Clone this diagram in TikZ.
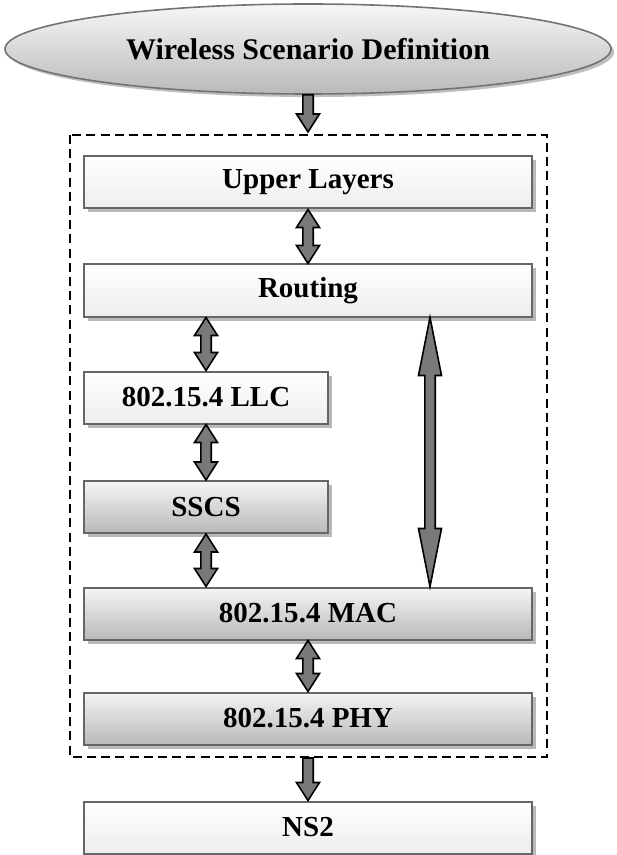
\documentclass[tikz,border=0pt]{standalone}
\usepackage{fontspec}
\setmainfont{Liberation Serif}
\usetikzlibrary{calc,shapes.geometric,shadows}

% vertical block arrows, drawn from the upper end to the lower end
\newcommand{\twoway}[3]{%
  \filldraw[link] let \p1=(#1), \p2=(#2) in
    (\x1,\y1) -- (\x1+5.75pt,\y1-#3) -- (\x1+2.6pt,\y1-#3)
    -- (\x1+2.6pt,\y2+#3) -- (\x1+5.75pt,\y2+#3) -- (\x1,\y2)
    -- (\x1-5.75pt,\y2+#3) -- (\x1-2.6pt,\y2+#3)
    -- (\x1-2.6pt,\y1-#3) -- (\x1-5.75pt,\y1-#3) -- cycle;}
\newcommand{\oneway}[2]{%
  \filldraw[link] let \p1=(#1), \p2=(#2) in
    (\x1-2.6pt,\y1) -- (\x1+2.6pt,\y1) -- (\x1+2.6pt,\y2+9pt)
    -- (\x1+5.75pt,\y2+9pt) -- (\x1,\y2) -- (\x1-5.75pt,\y2+9pt)
    -- (\x1-2.6pt,\y2+9pt) -- cycle;}

\begin{document}
\begin{tikzpicture}[
  x=0.5pt, y=-0.5pt,
  every node/.style={font=\fontsize{14.5}{17}\selectfont\bfseries},
  layer/.style={draw=black!60, line width=1pt, rectangle, inner sep=0pt,
    minimum height=26pt, top color=white, bottom color=gray!14,
    drop shadow={shadow xshift=2pt, shadow yshift=-2pt, fill=gray!55, opacity=1}},
  darklayer/.style={layer, top color=gray!8, bottom color=gray!55},
  wide/.style={minimum width=224pt},
  narrow/.style={minimum width=122pt},
  scenario/.style={ellipse, draw=black!55, line width=0.8pt, inner sep=0pt,
    minimum width=303pt, minimum height=45pt, top color=gray!6, bottom color=gray!55,
    font=\fontsize{15}{18}\selectfont\bfseries,
    drop shadow={shadow xshift=1.5pt, shadow yshift=-1.5pt, fill=gray!50, opacity=1}},
  link/.style={draw=black, line width=0.8pt, fill=gray!95!black},
  frame/.style={draw=black, line width=0.8pt, dash pattern=on 4.5pt off 2.6pt}
]
\useasboundingbox (0,0) rectangle (616,855);

\node[scenario] (scen) at (308,49) {Wireless Scenario Definition};

\draw[frame] (70,135) rectangle (547,757);
\coordinate (frametop) at (308,132);
\coordinate (framebot) at (308,758);
\coordinate (side) at (430,0);

\node[layer, wide] (upper) at (308,182.5) {Upper Layers};
\node[layer, wide] (routing) at (308,290.5) {Routing};
\node[layer, narrow] (llc) at (206,397.5) {802.15.4 LLC};
\node[darklayer, narrow] (sscs) at (206,507) {SSCS};
\node[darklayer, wide] (mac) at (308,613.5) {802.15.4 MAC};
\node[darklayer, wide] (phy) at (308,718.5) {802.15.4 PHY};
\node[layer, wide] (ns2) at (308,827.5) {NS2};

\oneway{scen.south}{frametop}
\twoway{upper.south}{routing.north}{9pt}
\twoway{llc.north |- routing.south}{llc.north}{9pt}
\twoway{llc.south}{sscs.north}{9pt}
\twoway{sscs.south}{sscs.south |- mac.north}{9pt}
\twoway{side |- routing.south}{side |- mac.north}{29pt}
\twoway{mac.south}{phy.north}{9pt}
\oneway{framebot}{ns2.north}
\end{tikzpicture}
\end{document}
